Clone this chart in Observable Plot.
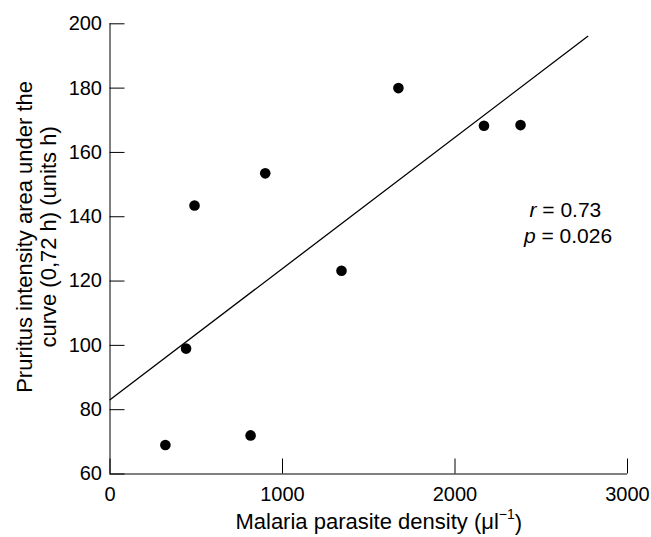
<!DOCTYPE html>
<html><head><meta charset="utf-8">
<script src="https://cdn.jsdelivr.net/npm/d3@7"></script>
<script src="https://cdn.jsdelivr.net/npm/@observablehq/plot@0.6"></script>
<style>body{margin:0;background:#fff}</style>
</head><body><div id="chart"></div>
<script>
// Data
const density = [321, 441, 490, 815, 900, 1342, 1672, 2168, 2380];
const pruritus = [69, 99, 143.5, 72, 153.5, 123.2, 180, 168.3, 168.5];
const fitX = [0, 2770];
const fitY = [83.1, 196.1];
const xTicks = [0, 1000, 2000, 3000];
const yTicks = [60, 80, 100, 120, 140, 160, 180, 200];
const statLabels = ["r = 0.73", "p = 0.026"];
const xTitle = "Malaria parasite density (μl⁻¹)";
const yTitle = "Pruritus intensity area under the\ncurve (0,72 h) (units h)";

const points = density.map((d, i) => ({x: d, y: pruritus[i]}));
const fit = fitX.map((d, i) => ({x: d, y: fitY[i]}));
const stats = [
  {label: statLabels[0], x: 2640, y: 141.9},
  {label: statLabels[1], x: 2655, y: 133.8}
];
const font = "'Liberation Sans', Arial, Helvetica, sans-serif";

const chart = Plot.plot({
  width: 651,
  height: 537,
  marginLeft: 109.5,
  marginRight: 24,
  marginTop: 23.3,
  marginBottom: 63.5,
  style: {fontFamily: font, fontSize: "20px", color: "black", background: "white", overflow: "visible"},
  x: {domain: [0, 3000]},
  y: {domain: [60, 200]},
  marks: [
    Plot.axisX({ticks: xTicks, tickSize: -15, tickPadding: 28, tickFormat: d => String(d), fontSize: 20, label: null}),
    Plot.axisY({ticks: yTicks, tickSize: -15, tickPadding: 23, tickFormat: d => String(d), fontSize: 20, label: null}),
    Plot.ruleX([0], {stroke: "black"}),
    Plot.ruleY([60], {stroke: "black"}),
    Plot.line(fit, {x: "x", y: "y", stroke: "black", strokeWidth: 1.3}),
    Plot.dot(points, {x: "x", y: "y", r: 5.3, fill: "black", stroke: "none"}),
    Plot.text(stats, {x: "x", y: "y", text: "label", fontSize: 21, textAnchor: "middle", fill: "black"}),
    Plot.text([xTitle], {frameAnchor: "bottom", dx: 10, dy: 48.3, text: d => d, fontSize: 22, fill: "black", lineAnchor: "middle"}),
    Plot.text([yTitle], {frameAnchor: "left", textAnchor: "middle", dx: -73.5, dy: -12, rotate: -90, text: d => d, fontSize: 22, lineHeight: 1.1, fill: "black"})
  ]
});
document.getElementById("chart").appendChild(chart);

// italic statistic letters and superscript unit
d3.select(chart).selectAll("text").each(function() {
  const t = this.textContent;
  if (statLabels.includes(t)) {
    const sel = d3.select(this);
    sel.text("");
    sel.append("tspan").attr("font-style", "italic").text(t[0]);
    sel.append("tspan").text(t.slice(1));
  } else if (t === xTitle) {
    const sel = d3.select(this);
    sel.text("");
    sel.append("tspan").text("Malaria parasite density (μl");
    sel.append("tspan").attr("font-size", 14).attr("dy", "-0.75em").text("−1");
    sel.append("tspan").attr("dy", "0.5em").text(")");
  }
});
</script>
</body></html>
